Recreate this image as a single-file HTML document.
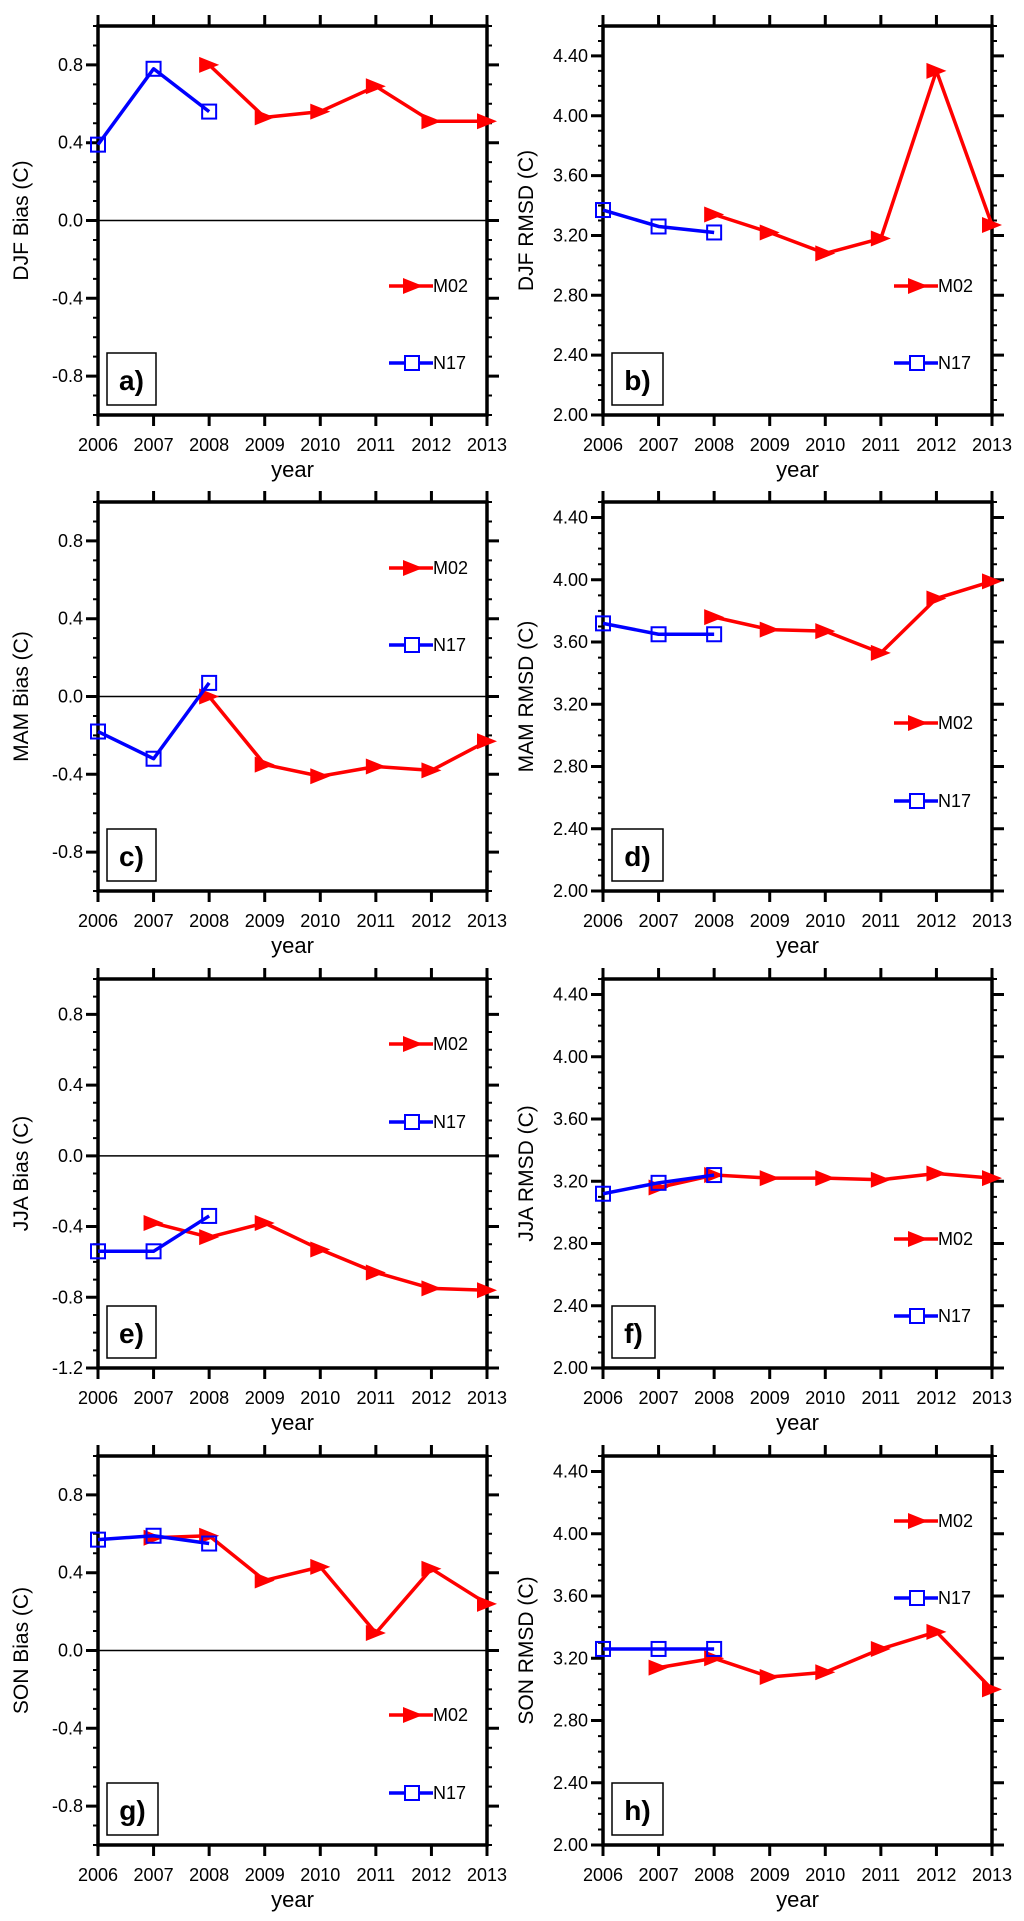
<!DOCTYPE html>
<html><head><meta charset="utf-8">
<style>
html,body{margin:0;padding:0;background:#fff;}
svg{display:block;font-family:"Liberation Sans",Arial,sans-serif;}
</style></head>
<body>
<svg id="fig" width="1024" height="1921" viewBox="0 0 1024 1921" xmlns="http://www.w3.org/2000/svg"></svg>
<script>
// ---- data ----
const years = [2006, 2007, 2008, 2009, 2010, 2011, 2012, 2013];
const biasTicks = [-0.8, -0.4, 0.0, 0.4, 0.8];
const biasTicksJJA = [-1.2, -0.8, -0.4, 0.0, 0.4, 0.8];
const rmsdTicks = [2.00, 2.40, 2.80, 3.20, 3.60, 4.00, 4.40];

const djfBiasN17 = [0.39, 0.78, 0.56];
const djfBiasM02 = [null, null, 0.80, 0.53, 0.56, 0.69, 0.51, 0.51];
const djfRmsdN17 = [3.37, 3.26, 3.22];
const djfRmsdM02 = [null, null, 3.34, 3.22, 3.08, 3.18, 4.30, 3.27];
const mamBiasN17 = [-0.18, -0.32, 0.07];
const mamBiasM02 = [null, null, 0.00, -0.35, -0.41, -0.36, -0.38, -0.23];
const mamRmsdN17 = [3.72, 3.65, 3.65];
const mamRmsdM02 = [null, null, 3.76, 3.68, 3.67, 3.53, 3.88, 3.99];
const jjaBiasN17 = [-0.54, -0.54, -0.34];
const jjaBiasM02 = [null, -0.38, -0.46, -0.38, -0.53, -0.66, -0.75, -0.76];
const jjaRmsdN17 = [3.12, 3.19, 3.24];
const jjaRmsdM02 = [null, 3.16, 3.24, 3.22, 3.22, 3.21, 3.25, 3.22];
const sonBiasN17 = [0.57, 0.59, 0.55];
const sonBiasM02 = [null, 0.58, 0.59, 0.36, 0.43, 0.09, 0.42, 0.24];
const sonRmsdN17 = [3.26, 3.26, 3.26];
const sonRmsdM02 = [null, 3.14, 3.20, 3.08, 3.11, 3.26, 3.37, 3.00];

// ---- layout ----
const NS = "http://www.w3.org/2000/svg";
const svg = document.getElementById('fig');
function mk(tag, attrs, parent){
  const e = document.createElementNS(NS, tag);
  for (const k in attrs) e.setAttribute(k, attrs[k]);
  (parent||svg).appendChild(e);
  return e;
}
const colX = [98, 603];
const rowY = [26, 502, 979, 1456];
const W = 389, H = 389;

const panels = [
 {id:'a', title:'DJF Bias (C)', col:0,row:0, ymin:-1.0,ymax:1.0, ticks:biasTicks, dec:1, zero:true, n17:djfBiasN17, m02:djfBiasM02, leg:[260,337], box:49},
 {id:'b', title:'DJF RMSD (C)', col:1,row:0, ymin:2.0,ymax:4.6, ticks:rmsdTicks, dec:2, zero:false, n17:djfRmsdN17, m02:djfRmsdM02, leg:[260,337], box:51},
 {id:'c', title:'MAM Bias (C)', col:0,row:1, ymin:-1.0,ymax:1.0, ticks:biasTicks, dec:1, zero:true, n17:mamBiasN17, m02:mamBiasM02, leg:[66,143], box:49},
 {id:'d', title:'MAM RMSD (C)', col:1,row:1, ymin:2.0,ymax:4.5, ticks:rmsdTicks, dec:2, zero:false, n17:mamRmsdN17, m02:mamRmsdM02, leg:[221,299], box:51},
 {id:'e', title:'JJA Bias (C)', col:0,row:2, ymin:-1.2,ymax:1.0, ticks:biasTicksJJA, dec:1, zero:true, n17:jjaBiasN17, m02:jjaBiasM02, leg:[65,143], box:49},
 {id:'f', title:'JJA RMSD (C)', col:1,row:2, ymin:2.0,ymax:4.5, ticks:rmsdTicks, dec:2, zero:false, n17:jjaRmsdN17, m02:jjaRmsdM02, leg:[260,337], box:43},
 {id:'g', title:'SON Bias (C)', col:0,row:3, ymin:-1.0,ymax:1.0, ticks:biasTicks, dec:1, zero:true, n17:sonBiasN17, m02:sonBiasM02, leg:[259,337], box:51},
 {id:'h', title:'SON RMSD (C)', col:1,row:3, ymin:2.0,ymax:4.5, ticks:rmsdTicks, dec:2, zero:false, n17:sonRmsdN17, m02:sonRmsdM02, leg:[65,142], box:51}
];

function triPts(cx, cy){ return (cx-10)+','+(cy-8)+' '+(cx+10)+','+cy+' '+(cx-10)+','+(cy+8); }

panels.forEach(p => {
  const x0 = colX[p.col], y0 = rowY[p.row];
  const g = mk('g', {});
  
  
  const xs = yr => x0 + (yr - years[0]) / (years[years.length-1] - years[0]) * W;
  const ys = v => y0 + (p.ymax - v) / (p.ymax - p.ymin) * H;

  // minor y ticks
  const step = 0.1;
  for (let v = Math.ceil(p.ymin/step - 1e-6)*step; v <= p.ymax + 1e-6; v += step) {
    const y = ys(v);
    const mt = mk('path', {d:`M${x0-5},${y}H${x0} M${x0+W},${y}H${x0+W+5}`, stroke:'#000','stroke-width':2}, g);
    
    
  }
  // major y ticks + labels
  p.ticks.forEach(t => {
    const y = ys(t);
    const tk = mk('path', {d:`M${x0-12},${y}H${x0} M${x0+W},${y}H${x0+W+12}`, stroke:'#000','stroke-width':3}, g);
    
    
    const lb = mk('text', {x:x0-15, y:y+6, 'font-size':18, 'text-anchor':'end', fill:'#000'}, g);
    lb.textContent = t.toFixed(p.dec);
    
    
  });
  // x ticks + labels
  years.forEach(yr => {
    const x = xs(yr);
    const tk = mk('path', {d:`M${x},${y0-11}V${y0} M${x},${y0+H}V${y0+H+11}`, stroke:'#000','stroke-width':3}, g);
    
    
    const lb = mk('text', {x:x, y:y0+H+36, 'font-size':18, 'text-anchor':'middle', fill:'#000'}, g);
    lb.textContent = yr;
    
    
  });
  // zero line
  if (p.zero) {
    const zl = mk('line', {x1:x0, x2:x0+W, y1:ys(0), y2:ys(0), stroke:'#000','stroke-width':1.5}, g);
    
    
  }
  // frame
  const fr = mk('rect', {x:x0, y:y0, width:W, height:H, fill:'none', stroke:'#000','stroke-width':3.5}, g);
  
  

  // M02 series
  const mp = [];
  p.m02.forEach((v,i) => { if (v !== null) mp.push([xs(years[i]), ys(v)]); });
  const ml = mk('polyline', {points: mp.map(q=>q.join(',')).join(' '), fill:'none', stroke:'#ff0000','stroke-width':3.5,'stroke-linejoin':'round'}, g);
  
  
  mp.forEach(q => {
    const t = mk('polygon', {points: triPts(q[0], q[1]), fill:'#ff0000'}, g);
    
    
  });
  // N17 series
  const np = p.n17.map((v,i) => [xs(years[i]), ys(v)]);
  const nl = mk('polyline', {points: np.map(q=>q.join(',')).join(' '), fill:'none', stroke:'#0000ff','stroke-width':3.5,'stroke-linejoin':'round'}, g);
  
  
  np.forEach(q => {
    const s = mk('rect', {x:q[0]-7, y:q[1]-7, width:14, height:14, fill:'none', stroke:'#0000ff','stroke-width':2}, g);
    
    
  });

  // legend
  const lx = x0 + W - 98;
  const ly1 = y0 + p.leg[0], ly2 = y0 + p.leg[1];
  const lg1 = mk('g', {}, g);
  
  
  mk('line', {x1:lx, x2:lx+44, y1:ly1, y2:ly1, stroke:'#ff0000','stroke-width':3.5}, lg1);
  mk('polygon', {points: triPts(lx+24, ly1), fill:'#ff0000'}, lg1);
  const t1 = mk('text', {x:lx+44, y:ly1+6, 'font-size':18, fill:'#000'}, lg1);
  t1.textContent = 'M02';
  const lg2 = mk('g', {}, g);
  
  
  mk('line', {x1:lx, x2:lx+44, y1:ly2, y2:ly2, stroke:'#0000ff','stroke-width':3.5}, lg2);
  mk('rect', {x:lx+16, y:ly2-7, width:14, height:14, fill:'#fff', stroke:'#0000ff','stroke-width':2}, lg2);
  const t2 = mk('text', {x:lx+44, y:ly2+6, 'font-size':18, fill:'#000'}, lg2);
  t2.textContent = 'N17';

  // panel label box
  const bx = x0 + 9, by = y0 + H - 62;
  const br = mk('rect', {x:bx, y:by, width:p.box, height:52, fill:'#fff', stroke:'#000','stroke-width':1.5}, g);
  
  
  const bt = mk('text', {x:bx+p.box/2, y:by+37, 'font-size':28, 'font-weight':'bold', 'text-anchor':'middle', fill:'#000'}, g);
  bt.textContent = p.id + ')';
  
  

  // axis titles
  const yt = mk('text', {x:0, y:0, 'font-size':21, 'text-anchor':'middle', fill:'#000',
    transform:`translate(${x0-70},${y0+H/2}) rotate(-90)`}, g);
  yt.textContent = p.title;
  
  
  const xt = mk('text', {x:x0+W/2, y:y0+H+62, 'font-size':22, 'text-anchor':'middle', fill:'#000'}, g);
  xt.textContent = 'year';
  
  
});
</script>
</body></html>
